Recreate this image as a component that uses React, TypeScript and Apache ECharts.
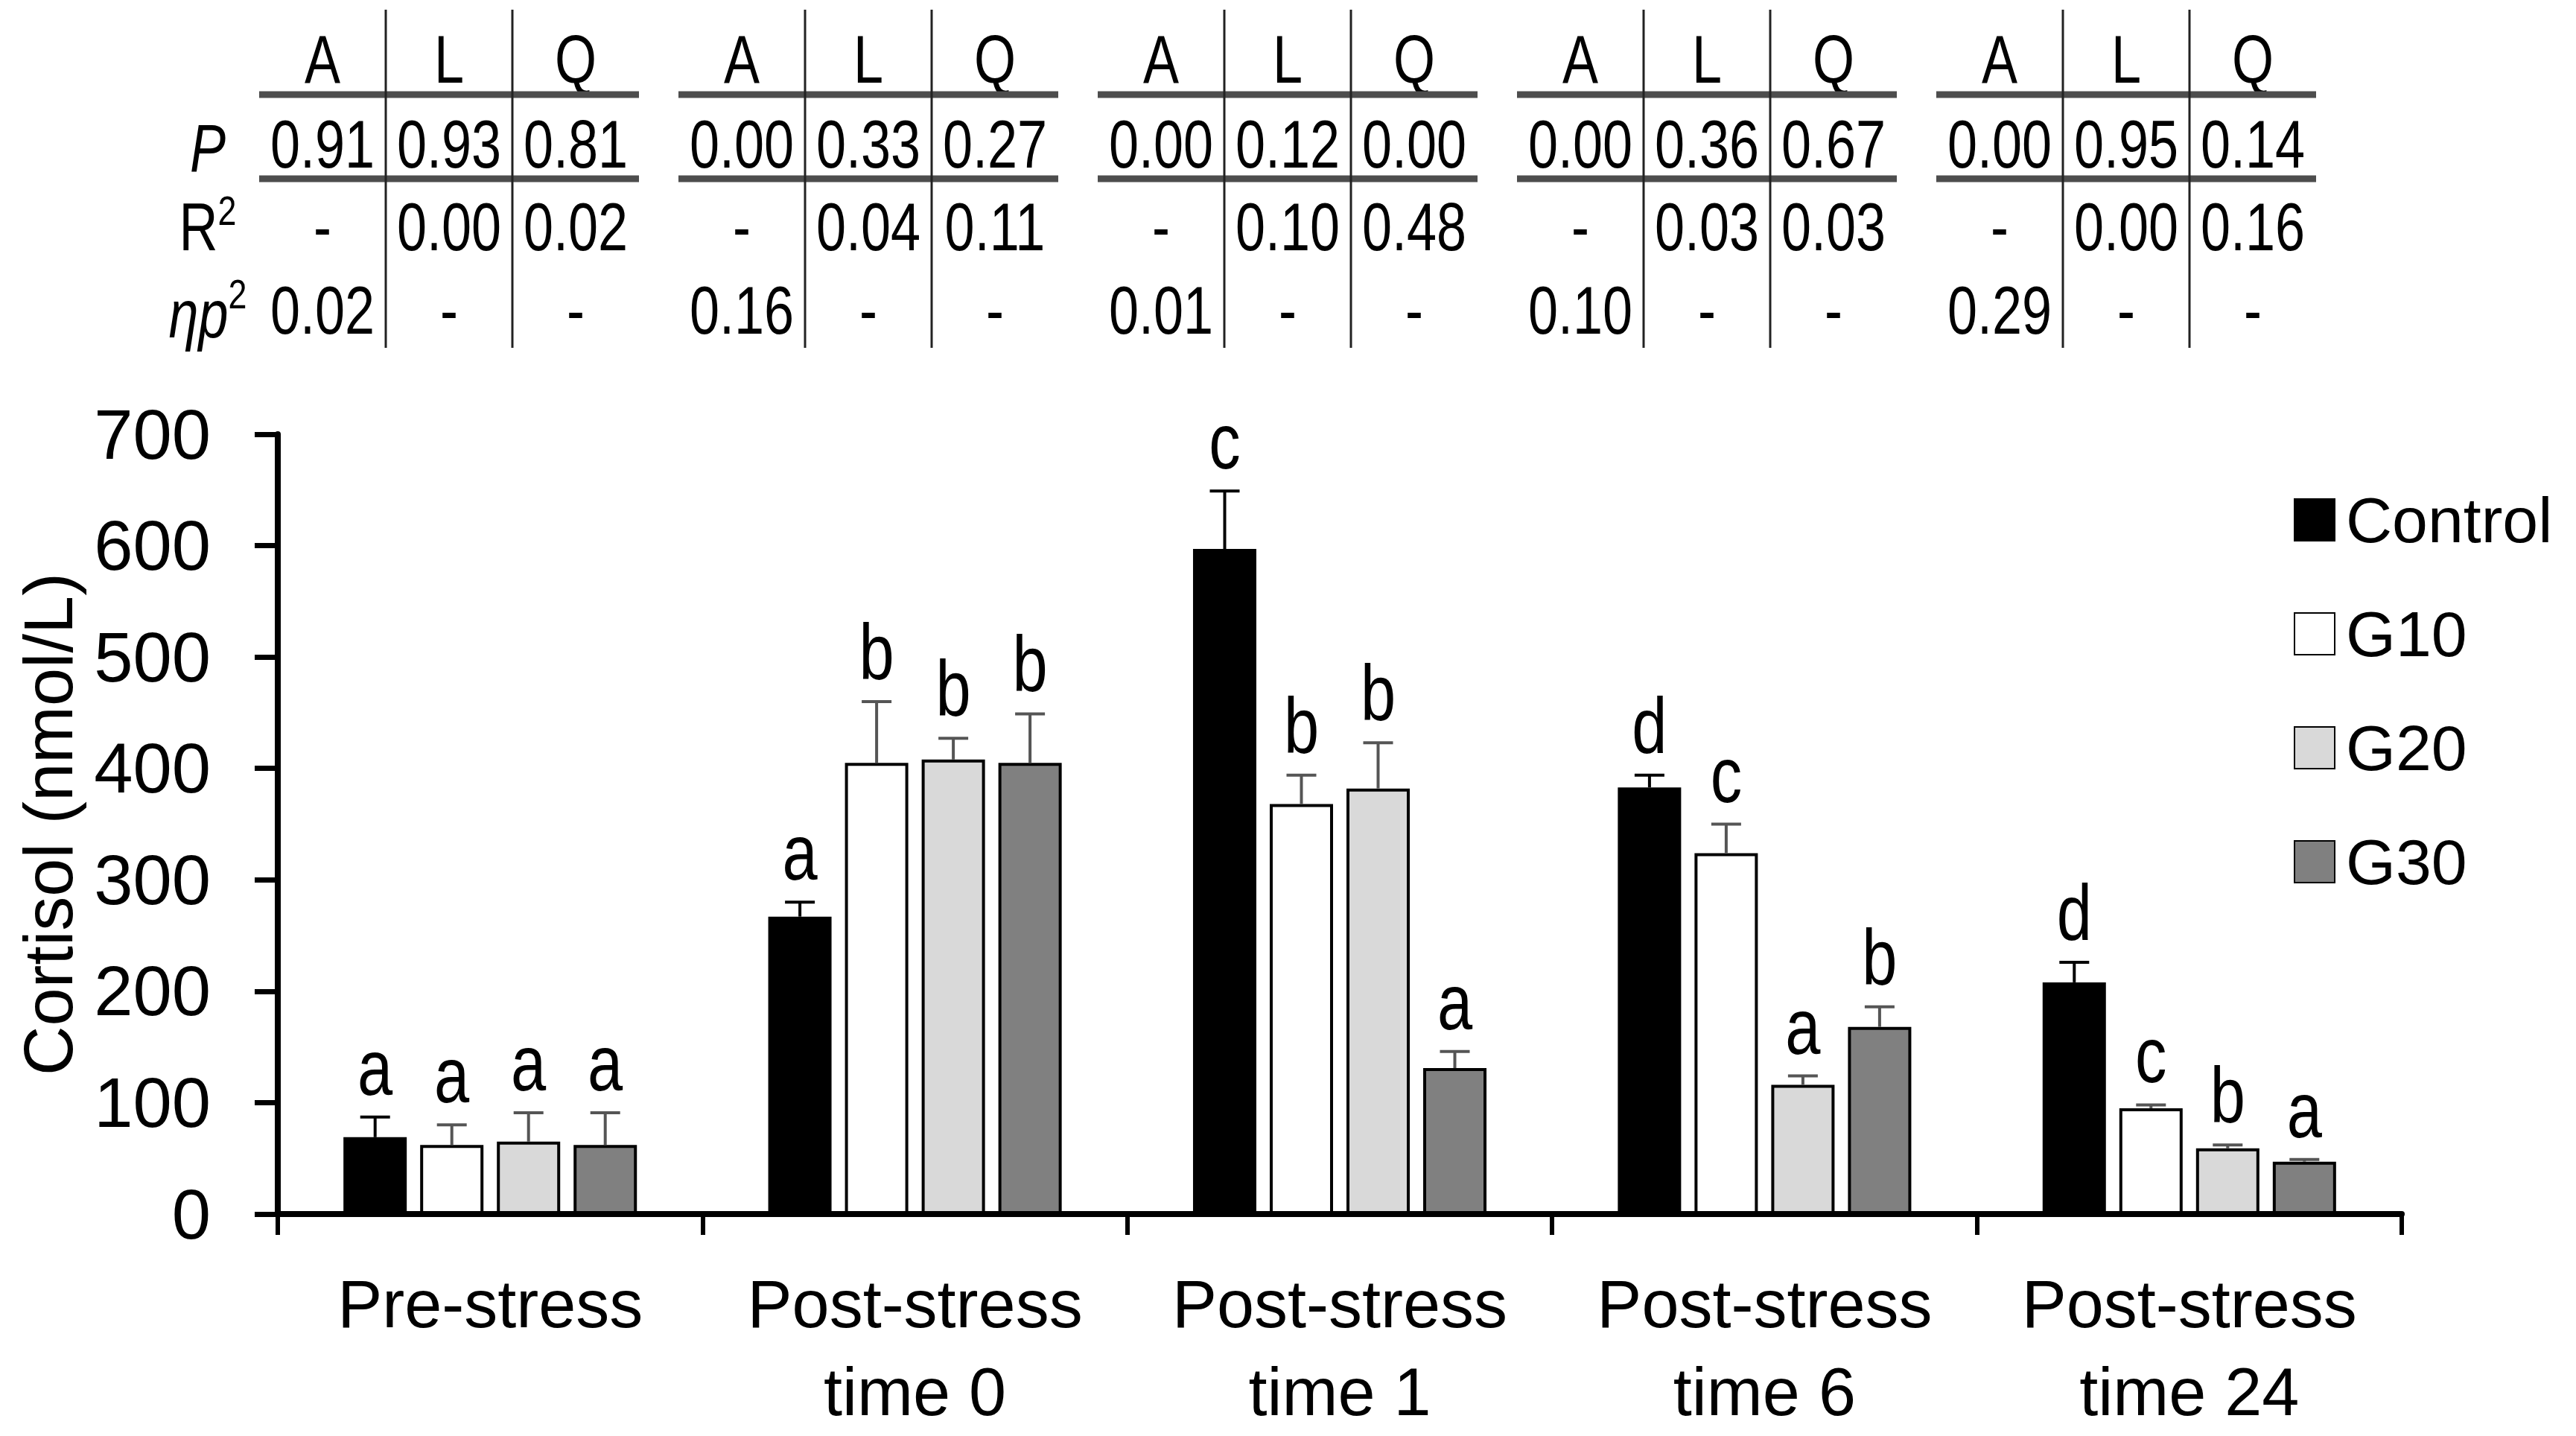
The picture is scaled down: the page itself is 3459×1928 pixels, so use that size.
import React, { useEffect, useRef } from "react";
import * as echarts from "echarts";

// ---------- data ----------
const categories = ["Pre-stress", "Post-stress\ntime 0", "Post-stress\ntime 1", "Post-stress\ntime 6", "Post-stress\ntime 24"];
const seriesNames = ["Control", "G10", "G20", "G30"];
const controlMean = [69, 267, 597, 383, 208];
const g10Mean = [62, 405, 368, 324, 95];
const g20Mean = [65, 408, 382, 116, 59];
const g30Mean = [62, 405, 131, 168, 47];
const controlSE = [18, 13, 52, 11, 18];
const g10SE = [18, 55, 26, 26, 3];
const g20SE = [26, 19, 41, 8, 3];
const g30SE = [29, 44, 15, 18, 2];
const controlLetters = ["a", "a", "c", "d", "d"];
const g10Letters = ["a", "b", "b", "c", "c"];
const g20Letters = ["a", "b", "b", "a", "b"];
const g30Letters = ["a", "b", "a", "b", "a"];
const yTicks = [0, 100, 200, 300, 400, 500, 600, 700];

// table
const tableHeader = ["A", "L", "Q"];
const pValues = [["0.91", "0.93", "0.81"], ["0.00", "0.33", "0.27"], ["0.00", "0.12", "0.00"], ["0.00", "0.36", "0.67"], ["0.00", "0.95", "0.14"]];
const r2Values = [["-", "0.00", "0.02"], ["-", "0.04", "0.11"], ["-", "0.10", "0.48"], ["-", "0.03", "0.03"], ["-", "0.00", "0.16"]];
const etaValues = [["0.02", "-", "-"], ["0.16", "-", "-"], ["0.01", "-", "-"], ["0.10", "-", "-"], ["0.29", "-", "-"]];

// ---------- styles ----------
const FONT = "'Liberation Sans Narrow', 'Arial Narrow', 'Liberation Sans', Arial, sans-serif";
const colors = ["#000000", "#ffffff", "#d9d9d9", "#808080"];
const errColors = ["#000000", "#555555", "#555555", "#555555"];
const BAR_W = 85;
const BAR_GAP = 18;
const NARROW = 0.8;

const W = 3459;
const H = 1928;

const TABLE_X0 = 348;
const COL_W = 170;
const GROUP_STEP = 563;
const ROW_Y = [80, 194, 305, 417];
const HLINE_Y = [127, 240];
const VLINE_TOP = 13;
const VLINE_BOTTOM = 467;
const ROWLABEL_X = 279;
const TFONT = 90;

function buildTable(): any[] {
  const els: any[] = [];
  for (let g = 0; g < 5; g++) {
    const gx = TABLE_X0 + g * GROUP_STEP;
    const data = [tableHeader, pValues[g], r2Values[g], etaValues[g]];
    for (let r = 0; r < 4; r++) {
      for (let c = 0; c < 3; c++) {
        els.push({
          type: "text",
          x: gx + COL_W * (c + 0.5),
          y: ROW_Y[r],
          scaleX: NARROW,
          style: {
            text: data[r][c],
            fontSize: TFONT,
            fontFamily: FONT,
            fill: "#000",
            align: "center",
            verticalAlign: "middle",
            textAlign: "center",
            textVerticalAlign: "middle",
          },
        });
      }
    }
    for (const hy of HLINE_Y) {
      els.push({
        type: "line",
        shape: { x1: gx, y1: hy, x2: gx + 3 * COL_W, y2: hy },
        style: { stroke: "#4d4d4d", lineWidth: 9 },
      });
    }
    for (let k = 1; k <= 2; k++) {
      els.push({
        type: "line",
        shape: { x1: gx + k * COL_W, y1: VLINE_TOP, x2: gx + k * COL_W, y2: VLINE_BOTTOM },
        style: { stroke: "#222", lineWidth: 3 },
      });
    }
  }
  const rowLabels = ["{it|P}", "R{sup|2}", "{it|ηp}{sup|2}"];
  for (let r = 0; r < 3; r++) {
    els.push({
      type: "text",
      x: ROWLABEL_X,
      y: ROW_Y[r + 1],
      scaleX: NARROW,
      style: {
        text: rowLabels[r],
        fontSize: TFONT,
        fontFamily: FONT,
        fill: "#000",
        align: "center",
        verticalAlign: "middle",
        textAlign: "center",
        textVerticalAlign: "middle",
        rich: {
          it: { fontSize: TFONT, fontFamily: FONT, fontStyle: "italic", fill: "#000", verticalAlign: "bottom", lineHeight: 100 },
          sup: { fontSize: 56, fontFamily: FONT, fill: "#000", verticalAlign: "top", lineHeight: 100 },
        },
      },
    });
  }
  return els;
}

export default function App() {
  const ref = useRef<HTMLDivElement>(null);

  useEffect(() => {
    document.body.style.margin = "0";
    document.body.style.overflow = "hidden";
    if (!ref.current) return;
    const chart = echarts.init(ref.current, undefined, { renderer: "svg" });

    const means = [controlMean, g10Mean, g20Mean, g30Mean];
    const ses = [controlSE, g10SE, g20SE, g30SE];
    const letters = [controlLetters, g10Letters, g20Letters, g30Letters];

    const barSeries = seriesNames.map((name, k) => ({
      name,
      type: "bar",
      data: means[k],
      barWidth: BAR_W,
      barGap: ((BAR_GAP / BAR_W) * 100).toFixed(1) + "%",
      itemStyle: { color: colors[k], borderColor: "#000", borderWidth: 4 },
      z: 2,
    }));

    const errSeries = seriesNames.map((name, k) => ({
      name: name + "-err",
      type: "custom",
      z: 5,
      silent: true,
      data: means[k].map((m, i) => [i, m + ses[k][i], m]),
      encode: { x: 0, y: 1 },
      renderItem: (params: any, api: any) => {
        const i = api.value(0);
        const top = api.value(1);
        const mean = api.value(2);
        const pTop = api.coord([i, top]);
        const pMean = api.coord([i, mean]);
        const offset = (k - 1.5) * (BAR_W + BAR_GAP);
        const x = pTop[0] + offset;
        const c = errColors[k];
        return {
          type: "group",
          children: [
            { type: "line", shape: { x1: x, y1: pMean[1], x2: x, y2: pTop[1] }, style: { stroke: c, lineWidth: 4 } },
            { type: "line", shape: { x1: x - 20, y1: pTop[1], x2: x + 20, y2: pTop[1] }, style: { stroke: c, lineWidth: 4 } },
            {
              type: "text",
              x,
              y: pTop[1] - 14,
              scaleX: NARROW,
              style: {
                text: letters[k][params.dataIndex],
                fontSize: 106,
                fontFamily: FONT,
                fill: "#000",
                align: "center",
                verticalAlign: "bottom",
                textAlign: "center",
                textVerticalAlign: "bottom",
              },
            },
          ],
        };
      },
    }));

    const option: any = {
      animation: false,
      backgroundColor: "#ffffff",
      textStyle: { fontFamily: FONT },
      grid: { left: 373, right: 234, top: 583, bottom: 296, containLabel: false },
      legend: {
        data: seriesNames,
        orient: "vertical",
        left: 3075,
        top: 650,
        itemWidth: 54,
        itemHeight: 56,
        itemGap: 67,
        icon: "rect",
        textStyle: { fontSize: 86, fontFamily: FONT, color: "#000", padding: [0, 0, 0, 10] },
      },
      xAxis: {
        type: "category",
        data: categories,
        axisLine: { lineStyle: { color: "#000", width: 8 } },
        axisTick: { show: true, length: 28, lineStyle: { color: "#000", width: 6 } },
        axisLabel: { interval: 0, fontSize: 90, lineHeight: 118, margin: 62, color: "#000", fontFamily: FONT },
        splitLine: { show: false },
      },
      yAxis: {
        type: "value",
        min: yTicks[0],
        max: yTicks[yTicks.length - 1],
        interval: 100,
        name: "Cortisol (nmol/L)",
        nameLocation: "middle",
        nameGap: 262,
        nameTextStyle: { fontSize: 92, fontFamily: FONT, color: "#000" },
        axisLine: { show: true, lineStyle: { color: "#000", width: 8 } },
        axisTick: { show: true, length: 31, lineStyle: { color: "#000", width: 7 } },
        axisLabel: { fontSize: 94, margin: 90, color: "#000", fontFamily: FONT },
        splitLine: { show: false },
      },
      graphic: buildTable(),
      series: [...barSeries, ...errSeries],
    };

    chart.setOption(option);
    return () => chart.dispose();
  }, []);

  return <div ref={ref} style={{ width: W, height: H }} />;
}
